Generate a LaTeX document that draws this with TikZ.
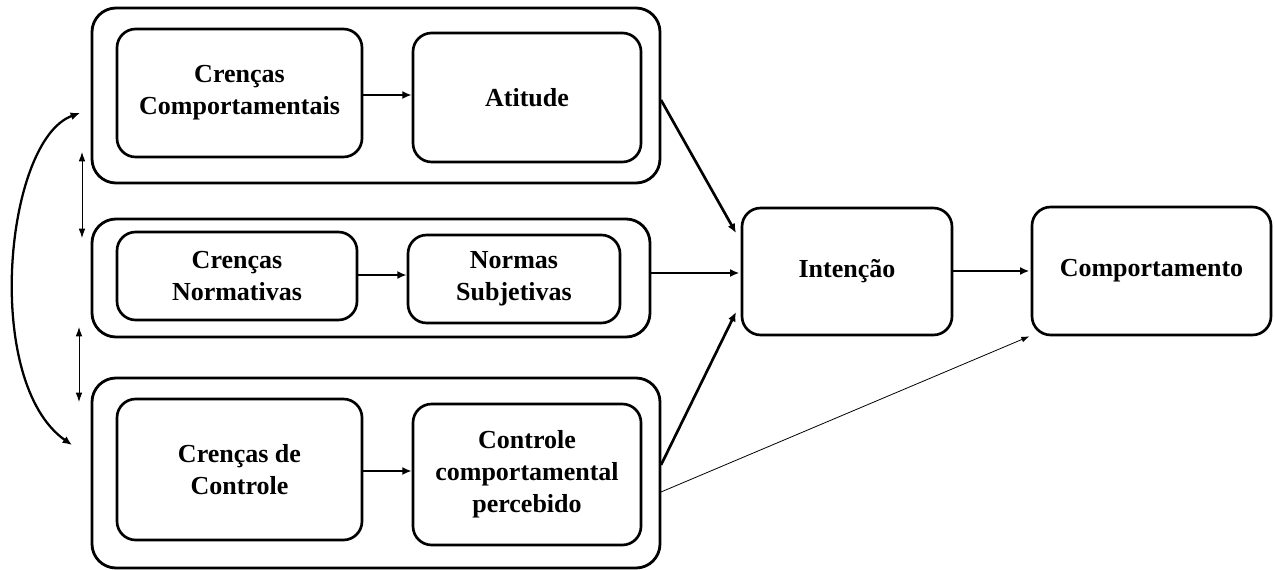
\documentclass[tikz,border=0pt]{standalone}
\usepackage{fontspec}
\setmainfont{Liberation Serif}
\usetikzlibrary{arrows.meta,calc}
\begin{document}
\begin{tikzpicture}[x=0.75pt,y=-0.75pt,
  sz/.style 2 args={minimum width=#1*0.75pt, minimum height=#2*0.75pt},
  outerbox/.style={draw, line width=2.1pt, rounded corners=18pt, inner sep=0pt},
  innerbox/.style={draw, line width=2pt, rounded corners=14pt, inner sep=0pt, align=center,
     font=\fontsize{19.5pt}{24pt}\selectfont\bfseries},
  thick arrow/.style={line width=2pt, -{Latex[length=7pt,width=6pt]}},
  thin arrow/.style={line width=0.6pt, -{Latex[length=6pt,width=4.5pt]}},
  dbl arrow/.style={line width=0.7pt, {Latex[length=7pt,width=5pt]}-{Latex[length=7pt,width=5pt]}},
  curve arrow/.style={line width=1.7pt, {Latex[length=7pt,width=6pt]}-{Latex[length=7pt,width=6pt]}}
]
\useasboundingbox (0,0) rectangle (1274,570);

% outer group boxes
\node[outerbox, sz={568}{175}] (o1) at (376,95.5) {};
\node[outerbox, sz={558}{118}] (o2) at (371,278) {};
\node[outerbox, sz={568}{190}] (o3) at (376,473) {};

% inner boxes
\node[innerbox, sz={245}{128}] (cc) at (239.5,93) {Crenças\\Comportamentais};
\node[innerbox, sz={228}{129}] (at) at (527,97.5) {Atitude};
\node[innerbox, sz={240}{88}] (cn) at (237,276) {Crenças\\Normativas};
\node[innerbox, sz={212}{88}] (ns) at (514,279) {Normas\\Subjetivas};
\node[innerbox, sz={245}{141}] (ct) at (239.5,469.5) {Crenças de\\Controle};
\node[innerbox, sz={228}{141}] (cp) at (527,474.5) {Controle\\comportamental\\percebido};

\node[innerbox, sz={210}{127}] (in) at (847,271.5) {Intenção};
\node[innerbox, sz={239}{128}] (co) at (1151.5,271) {Comportamento};

% helper coordinates
\coordinate (o1out) at (661,100);
\coordinate (inA) at (736,233);
\coordinate (o3out) at (661,465);
\coordinate (inC) at (736,312);
\coordinate (o3thin) at (661,492);
\coordinate (d1a) at (82,152);
\coordinate (d1b) at (82,238);
\coordinate (d2a) at (79,327);
\coordinate (d2b) at (79,402);
\coordinate (cva) at (80,113);
\coordinate (cvb) at (72,445);

% arrows inside groups
\draw[thick arrow] (cc.east |- 0,95) -- (at.west |- 0,95);
\draw[thick arrow] (cn.east |- 0,275) -- (ns.west |- 0,275);
\draw[thick arrow] (ct.east |- 0,471) -- (cp.west |- 0,471);

% arrows to Intencao
\draw[thick arrow] (o1out) -- (inA);
\draw[thick arrow] (o2.east |- 0,273) -- ([xshift=-1pt]in.west |- 0,273);
\draw[thick arrow] (o3out) -- (inC);
\draw[thick arrow] (in.east |- 0,271) -- ([xshift=-1pt]co.west |- 0,271);
\draw[thin arrow] (o3thin) -- ([xshift=-1pt]co.south west);

% left relations
\draw[dbl arrow] (d1a) -- (d1b);
\draw[dbl arrow] (d2a) -- (d2b);
\draw[curve arrow] (cva) .. controls (5,140) and (-18,382) .. (cvb);
\end{tikzpicture}
\end{document}
